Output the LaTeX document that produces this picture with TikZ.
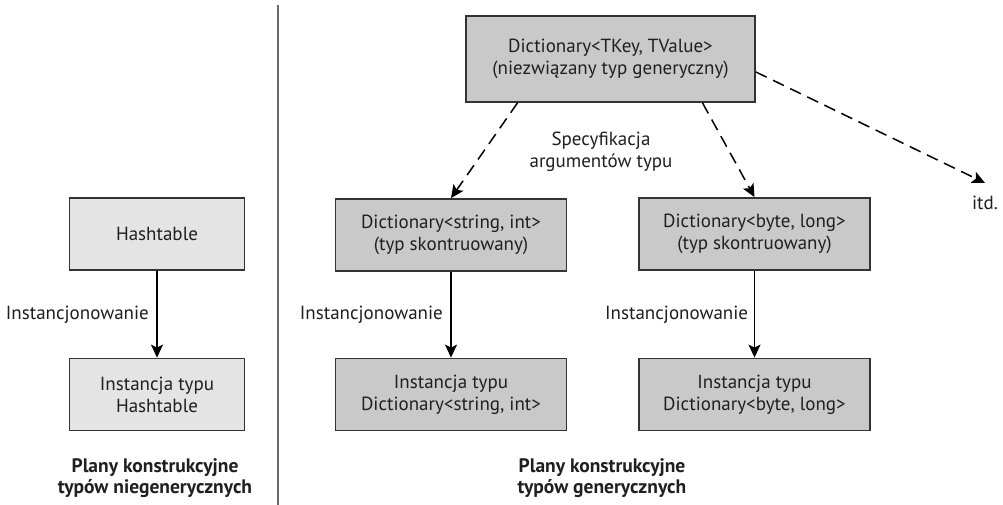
\documentclass[tikz,border=0pt]{standalone}
\usepackage{fontspec}
\setmainfont{PT Sans}
\usetikzlibrary{arrows.meta,calc}
\definecolor{boxdark}{HTML}{C9C9C9}
\definecolor{boxlight}{HTML}{E4E4E4}
\definecolor{edge}{HTML}{333333}
\definecolor{divider}{HTML}{6A6A6A}
\begin{document}
\begin{tikzpicture}[x=1pt,y=-1pt,
  basebox/.style={draw=edge,line width=1.8pt,align=center,inner sep=0pt,
    font=\fontsize{19}{22}\selectfont,text=black!88},
  genbox/.style={basebox,fill=boxdark,minimum width=231pt,minimum height=72pt},
  plainbox/.style={basebox,fill=boxlight,minimum width=175pt,minimum height=72pt},
  lbl/.style={font=\fontsize{19}{22}\selectfont,text=black!88,align=center,inner sep=0pt},
  captext/.style={font=\bfseries\fontsize{19.5}{21}\selectfont,text=black!88,align=center,inner sep=0pt},
  inst/.style={line width=1.5pt,-{Stealth[length=13pt,width=12pt,inset=3pt]}},
  spec/.style={line width=1.5pt,dash pattern=on 12pt off 7pt,-{Stealth[length=13pt,width=12pt,inset=3pt]}}
]
\useasboundingbox (0,0) rectangle (1003,505);
\fill[white] (0,0) rectangle (1003,505);
% divider
\draw[divider,line width=2pt] (278,5) coordinate (dtop) -- (278,505) coordinate (dbot);
% left side
\node[plainbox] (ht) at (157,234) {Hashtable};
\node[plainbox] (hti) at (157,394.5) {Instancja typu\\Hashtable};
\draw[inst] (ht) -- (hti);
\node[lbl,anchor=east] (htl) at (149,315) {Instancjonowanie};
\node[captext] (capl) at (155,478) {Plany konstrukcyjne\\typów niegenerycznych};
% right side
\node[genbox,minimum width=289pt,minimum height=86pt] (top) at (610.5,59) {Dictionary<TKey, TValue>\\(niezwiązany typ generyczny)};
\node[genbox] (dl) at (451,235) {Dictionary<string, int>\\(typ skontruowany)};
\node[genbox] (dr) at (754.5,234) {Dictionary<byte, long>\\(typ skontruowany)};
\node[genbox] (il) at (451,394.5) {Instancja typu\\Dictionary<string, int>};
\node[genbox] (ir) at (754.5,394.5) {Instancja typu\\Dictionary<byte, long>};
\node[lbl] (itd) at (985,203) {itd.};
\node[lbl] (specl) at (601,151.5) {Specyfikacja\\argumentów typu};
\draw[spec] ($(top.south)+(-93,0)$) -- (dl.north);
\draw[spec] ($(top.south)+(92,0)$) -- (dr.north);
\draw[spec] ($(top.east)+(0,13)$) -- ($(itd.north)+(0,-13)$);
\draw[inst] (dl) -- (il);
\draw[inst] (dr) -- (ir);
\node[lbl,anchor=east] (ill) at (443,315) {Instancjonowanie};
\node[lbl,anchor=west] (irl) at (605,315) {Instancjonowanie};
\node[captext] (capr) at (602,478) {Plany konstrukcyjne\\typów generycznych};
\end{tikzpicture}
\end{document}
